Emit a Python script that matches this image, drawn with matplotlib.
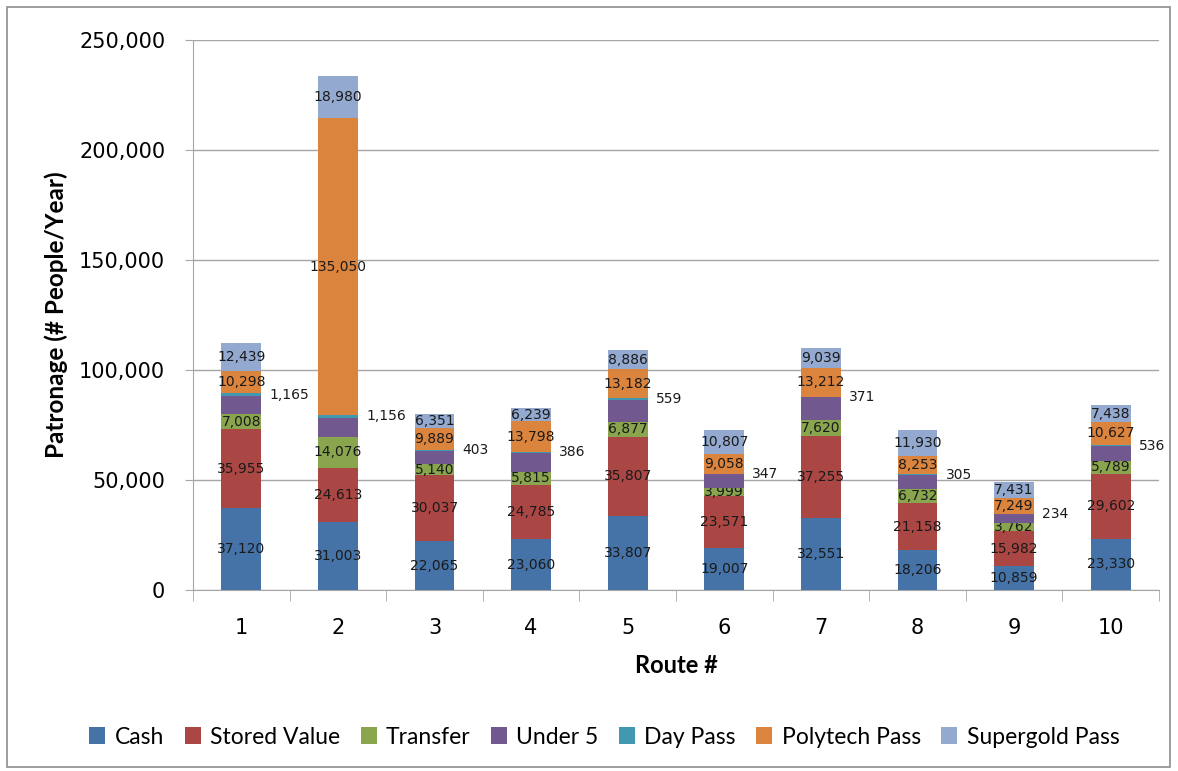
import matplotlib
matplotlib.use("Agg")
import matplotlib.pyplot as plt
import numpy as np
from matplotlib.patches import Rectangle

routes = ["1", "2", "3", "4", "5", "6", "7", "8", "9", "10"]
cash = [37120, 31003, 22065, 23060, 33807, 19007, 32551, 18206, 10859, 23330]
stored_value = [35955, 24613, 30037, 24785, 35807, 23571, 37255, 21158, 15982, 29602]
transfer = [7008, 14076, 5140, 5815, 6877, 3999, 7620, 6732, 3762, 5789]
under_5 = [8100, 8600, 6000, 8800, 10050, 6000, 10100, 6200, 3800, 6600]  # estimated, not labelled
day_pass = [1165, 1156, 403, 386, 559, 347, 371, 305, 234, 536]
polytech = [10298, 135050, 9889, 13798, 13182, 9058, 13212, 8253, 7249, 10627]
supergold = [12439, 18980, 6351, 6239, 8886, 10807, 9039, 11930, 7431, 7438]

series = [
    ("Cash", cash, "#4572A7"),
    ("Stored Value", stored_value, "#AA4643"),
    ("Transfer", transfer, "#89A54E"),
    ("Under 5", under_5, "#71588F"),
    ("Day Pass", day_pass, "#4198AF"),
    ("Polytech Pass", polytech, "#DB843D"),
    ("Supergold Pass", supergold, "#93A9CF"),
]

narrow = ["Lato", "DejaVu Sans"]

fig = plt.figure(figsize=(11.78, 7.71), dpi=100)
ax = fig.add_axes([193 / 1178, 1 - 590 / 771, 966 / 1178, 550 / 771])

x = np.arange(len(routes))
bottom = np.zeros(len(routes))
width = 0.41
for name, vals, color in series:
    vals = np.array(vals, dtype=float)
    bars = ax.bar(x, vals, width, bottom=bottom, color=color, label=name, zorder=3)
    if name == "Day Pass":
        # labels sit to the right of the bar
        for xi, b, v in zip(x, bottom, vals):
            ax.annotate(f"{int(v):,}", (xi + width / 2, b + v / 2), xytext=(6, 0),
                        textcoords="offset points", ha="left", va="center",
                        fontsize=10, color="#1a1a1a")
    elif name != "Under 5":
        ax.bar_label(bars, labels=[f"{int(v):,}" for v in vals], label_type="center",
                     fontsize=10, color="#1a1a1a")
    bottom += vals

ax.set_xlim(-0.5, len(routes) - 0.5)
ax.set_ylim(0, 250000)
ax.set_yticks(np.arange(0, 250001, 50000))
ax.set_yticklabels([f"{v:,}" for v in range(0, 250001, 50000)], fontsize=15)
ax.yaxis.grid(True, color="#a6a6a6", linewidth=1, zorder=0)
ax.set_axisbelow(True)

ax.set_xticks(x)
ax.set_xticklabels(routes, fontsize=15)
ax.set_xticks(np.arange(-0.5, len(routes), 1), minor=True)
ax.tick_params(axis="x", which="major", length=0, pad=20)
ax.tick_params(axis="x", which="minor", length=8, color="#a6a6a6", direction="out")
ax.tick_params(axis="y", length=6, color="#a6a6a6", direction="out", pad=14)

for s in ["top", "right"]:
    ax.spines[s].set_visible(False)
for s in ["left", "bottom"]:
    ax.spines[s].set_color("#a6a6a6")

ax.set_ylabel("Patronage (# People/Year)", fontsize=17.5, fontweight="bold", family=narrow, labelpad=8)
ax.set_xlabel("Route #", fontsize=17, fontweight="bold", family=narrow, labelpad=12)

fig.legend(loc="center", bbox_to_anchor=(0.513, 1 - 737 / 771), ncol=7, frameon=False,
           handlelength=0.7, handleheight=0.7, handletextpad=0.4, columnspacing=0.9,
           prop={"family": narrow, "size": 16.5})

fig.patches.append(Rectangle((7 / 1178, 4 / 771), 1163 / 1178, 760 / 771, transform=fig.transFigure,
                             fill=False, edgecolor="#8c8c8c", linewidth=1.2))

fig.savefig("out.png", dpi=100)
